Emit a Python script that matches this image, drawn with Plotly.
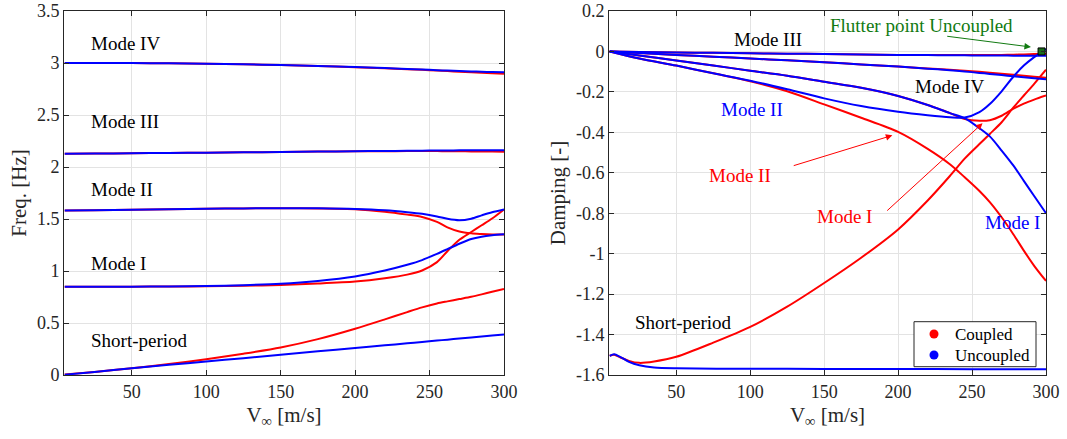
import plotly.graph_objects as go

# ---------------- data ----------------
V = [5, 25, 50, 75, 100, 125, 150, 175, 200, 220, 235, 245, 255, 262, 270, 278, 285, 292, 300]

# Frequencies [Hz]
f_blue_IV = [3.000, 3.000, 2.999, 2.997, 2.993, 2.987, 2.980, 2.971, 2.961, 2.951, 2.943, 2.937, 2.931, 2.927, 2.923, 2.919, 2.916, 2.913, 2.910]
f_red_IV = [3.000, 3.000, 2.999, 2.997, 2.993, 2.987, 2.980, 2.971, 2.960, 2.949, 2.940, 2.934, 2.927, 2.922, 2.916, 2.911, 2.906, 2.902, 2.897]
f_blue_III = [2.128, 2.130, 2.132, 2.135, 2.138, 2.141, 2.145, 2.148, 2.152, 2.154, 2.156, 2.157, 2.158, 2.159, 2.160, 2.160, 2.161, 2.161, 2.162]
f_red_III = [2.128, 2.130, 2.132, 2.135, 2.138, 2.141, 2.145, 2.148, 2.151, 2.152, 2.153, 2.153, 2.153, 2.152, 2.151, 2.150, 2.149, 2.148, 2.147]
f_blue_II = [1.582, 1.585, 1.588, 1.593, 1.598, 1.602, 1.604, 1.603, 1.597, 1.584, 1.566, 1.550, 1.525, 1.502, 1.488, 1.503, 1.535, 1.565, 1.592]
f_red_II = [1.582, 1.585, 1.588, 1.593, 1.598, 1.602, 1.603, 1.601, 1.594, 1.570, 1.542, 1.520, 1.472, 1.420, 1.380, 1.362, 1.356, 1.352, 1.350]
f_blue_I = [0.848, 0.848, 0.849, 0.851, 0.855, 0.864, 0.878, 0.905, 0.948, 1.005, 1.060, 1.105, 1.165, 1.210, 1.262, 1.308, 1.330, 1.343, 1.353]
f_red_I = [0.848, 0.848, 0.849, 0.851, 0.853, 0.858, 0.866, 0.879, 0.898, 0.930, 0.965, 1.005, 1.085, 1.190, 1.300, 1.375, 1.440, 1.505, 1.592]
f_red_SP = [0.005, 0.030, 0.065, 0.105, 0.152, 0.205, 0.265, 0.345, 0.445, 0.535, 0.605, 0.650, 0.688, 0.708, 0.730, 0.752, 0.775, 0.800, 0.828]
f_blue_SP = [0.003, 0.030, 0.066, 0.098, 0.130, 0.162, 0.195, 0.228, 0.260, 0.285, 0.305, 0.318, 0.331, 0.340, 0.350, 0.360, 0.370, 0.380, 0.390]

# Damping [-]
d_blue_III = [0, -0.003, -0.005, -0.007, -0.009, -0.011, -0.013, -0.015, -0.017, -0.018, -0.019, -0.019, -0.020, -0.020, -0.020, -0.021, -0.021, -0.021, -0.021]
d_red_III = [0, -0.003, -0.005, -0.007, -0.009, -0.011, -0.013, -0.015, -0.017, -0.018, -0.018, -0.018, -0.018, -0.018, -0.017, -0.016, -0.015, -0.013, -0.011]
d_blue_IV = [0, -0.008, -0.017, -0.026, -0.035, -0.044, -0.054, -0.064, -0.075, -0.085, -0.093, -0.099, -0.106, -0.111, -0.117, -0.123, -0.128, -0.133, -0.138]
d_red_IV = [0, -0.008, -0.017, -0.026, -0.035, -0.044, -0.054, -0.064, -0.075, -0.084, -0.091, -0.096, -0.101, -0.105, -0.110, -0.115, -0.120, -0.125, -0.130]
d_blue_I = [0, -0.020, -0.045, -0.070, -0.095, -0.120, -0.150, -0.180, -0.220, -0.265, -0.305, -0.330, -0.380, -0.420, -0.490, -0.565, -0.640, -0.715, -0.800]
d_blue_II = [0, -0.035, -0.070, -0.108, -0.145, -0.187, -0.232, -0.270, -0.298, -0.315, -0.325, -0.327, -0.300, -0.260, -0.197, -0.124, -0.070, -0.028, 0.012]
d_red_II = [0, -0.035, -0.070, -0.108, -0.147, -0.197, -0.262, -0.328, -0.398, -0.482, -0.558, -0.622, -0.690, -0.745, -0.820, -0.905, -0.985, -1.060, -1.135]
d_red_I = [0, -0.020, -0.045, -0.070, -0.095, -0.120, -0.150, -0.180, -0.220, -0.265, -0.305, -0.334, -0.343, -0.340, -0.318, -0.283, -0.258, -0.238, -0.218]

V_sp_red = [5, 8, 12, 18, 25, 35, 50, 75, 100, 125, 150, 175, 200, 220, 235, 245, 255, 262, 270, 278, 285, 292, 300]
d_red_SP = [-1.505, -1.500, -1.512, -1.530, -1.540, -1.533, -1.510, -1.440, -1.362, -1.262, -1.145, -1.020, -0.880, -0.737, -0.616, -0.530, -0.458, -0.408, -0.350, -0.277, -0.218, -0.160, -0.090]
V_sp_blue = [5, 8, 12, 18, 25, 35, 50, 100, 150, 200, 250, 300]
d_blue_SP = [-1.505, -1.498, -1.510, -1.535, -1.552, -1.563, -1.567, -1.569, -1.570, -1.570, -1.571, -1.571]

flutter_V = [297]
flutter_d = [0.0]

x_ticks = [50, 100, 150, 200, 250, 300]
f_ticks = [0, 0.5, 1, 1.5, 2, 2.5, 3, 3.5]
f_ticktext = ["0", "0.5", "1", "1.5", "2", "2.5", "3", "3.5"]
d_ticks = [-1.6, -1.4, -1.2, -1.0, -0.8, -0.6, -0.4, -0.2, 0, 0.2]
d_ticktext = ["-1.6", "-1.4", "-1.2", "-1", "-0.8", "-0.6", "-0.4", "-0.2", "0", "0.2"]

left_labels = ["Mode IV", "Mode III", "Mode II", "Mode I", "Short-period"]
left_label_x = [21.5, 21.5, 21.5, 21.5, 21.5]
left_label_y = [3.19, 2.44, 1.787, 1.076, 0.33]

right_labels = ["Mode III", "Mode IV", "Mode II", "Mode II", "Mode I", "Mode I", "Short-period", "Flutter point Uncoupled"]
right_label_x = [112, 234.5, 101.3, 92.9, 164, 277.4, 55, 216]
right_label_y = [0.057, -0.171, -0.286, -0.613, -0.814, -0.847, -1.341, 0.126]
right_label_col = ["black", "black", "#0000ff", "#ff0000", "#ff0000", "#0000ff", "black", "#117a11"]

arrow_tail_x = [232.2, 128.4, 191.6]
arrow_tail_y = [0.076, -0.567, -0.794]
arrow_head_x = [289.8, 196.1, 257.1]
arrow_head_y = [0.022, -0.415, -0.355]
arrow_col = ["#117a11", "#ff0000", "#ff0000"]

legend_names = ["Coupled", "Uncoupled"]
legend_cols = ["#ff0000", "#0000ff"]

RED = "#ff0000"
BLUE = "#0000ff"
FONT = "Liberation Serif"
LW = 2
W, H = 1067, 439

fig = go.Figure()

def line(x, y, color, xa, ya):
    fig.add_trace(go.Scatter(x=x, y=y, mode="lines", xaxis=xa, yaxis=ya,
                             line=dict(color=color, width=LW, shape="spline", smoothing=0.8),
                             showlegend=False, hoverinfo="skip"))

# left: coupled first then uncoupled on top
for yv in [f_red_IV, f_red_III, f_red_II, f_red_I, f_red_SP]:
    line(V, yv, RED, "x", "y")
for yv in [f_blue_IV, f_blue_III, f_blue_II, f_blue_I, f_blue_SP]:
    line(V, yv, BLUE, "x", "y")

# right
for yv in [d_red_III, d_red_IV, d_red_I, d_red_II]:
    line(V, yv, RED, "x2", "y2")
line(V_sp_red, d_red_SP, RED, "x2", "y2")
for yv in [d_blue_III, d_blue_IV, d_blue_I, d_blue_II]:
    line(V, yv, BLUE, "x2", "y2")
line(V_sp_blue, d_blue_SP, BLUE, "x2", "y2")

fig.add_trace(go.Scatter(x=flutter_V, y=flutter_d, mode="markers", xaxis="x2", yaxis="y2",
                         marker=dict(symbol="square", size=7, color="#1a6e1a",
                                     line=dict(color="black", width=1)),
                         showlegend=False, hoverinfo="skip"))

annotations = []
for t, x, y in zip(left_labels, left_label_x, left_label_y):
    annotations.append(dict(text=t, x=x, y=y, xref="x", yref="y", xanchor="left",
                            yanchor="middle", showarrow=False,
                            font=dict(family=FONT, size=19, color="black")))
for t, x, y, c in zip(right_labels, right_label_x, right_label_y, right_label_col):
    annotations.append(dict(text=t, x=x, y=y, xref="x2", yref="y2", xanchor="center",
                            yanchor="middle", showarrow=False,
                            font=dict(family=FONT, size=19, color=c)))
for tx, ty, hx, hy, c in zip(arrow_tail_x, arrow_tail_y, arrow_head_x, arrow_head_y, arrow_col):
    annotations.append(dict(text="", x=hx, y=hy, ax=tx, ay=ty, xref="x2", yref="y2",
                            axref="x2", ayref="y2", showarrow=True, arrowhead=2,
                            arrowsize=1.3, arrowwidth=1, arrowcolor=c, standoff=0,
                            startstandoff=0))

# legend box (drawn as shapes + text, placed in pixels of the page)
shapes = [dict(type="rect", xref="paper", yref="paper",
               x0=914 / W, x1=1036 / W, y0=1 - 366.7 / H, y1=1 - 321.7 / H,
               line=dict(color="#262626", width=1), fillcolor="white", layer="above")]
for i, (name, col) in enumerate(zip(legend_names, legend_cols)):
    cy = 334 + 21 * i
    shapes.append(dict(type="circle", xref="paper", yref="paper",
                       x0=929.5 / W, x1=938.5 / W, y0=1 - (cy + 4.5) / H, y1=1 - (cy - 4.5) / H,
                       line=dict(color=col, width=0), fillcolor=col, layer="above"))
    annotations.append(dict(text=name, x=953 / W, y=1 - cy / H, xref="paper", yref="paper",
                            xanchor="left", yanchor="middle", showarrow=False,
                            font=dict(family=FONT, size=17, color="black")))

axis_common = dict(showline=True, linecolor="#262626", linewidth=1, mirror="ticks",
                   ticks="inside", ticklen=5, tickcolor="#262626", showgrid=True,
                   gridcolor="#e3e3e3", gridwidth=1, zeroline=False, automargin=False,
                   ticklabeloverflow="allow",
                   tickfont=dict(family=FONT, size=18, color="#262626"))

xtitle = dict(text="V<sub>∞</sub> [m/s]", font=dict(family=FONT, size=21, color="#262626"), standoff=6)

ydom = [1 - 375 / H, 1 - 11 / H]

fig.update_layout(
    width=W, height=H,
    margin=dict(l=0, r=0, t=0, b=0, autoexpand=False),
    paper_bgcolor="white", plot_bgcolor="white",
    font=dict(family=FONT, color="#262626"),
    showlegend=False,
    hovermode=False,
    xaxis=dict(domain=[64 / W, 504 / W], range=[4.5, 300], tickvals=x_ticks,
               title=xtitle, anchor="y", **axis_common),
    yaxis=dict(domain=ydom, range=[0, 3.5], tickvals=f_ticks, ticktext=f_ticktext,
               title=dict(text="Freq. [Hz]", font=dict(family=FONT, size=21, color="#262626"), standoff=4),
               anchor="x", **axis_common),
    xaxis2=dict(domain=[609 / W, 1046 / W], range=[4.5, 300], tickvals=x_ticks,
                title=xtitle, anchor="y2", **axis_common),
    yaxis2=dict(domain=ydom, range=[-1.6, 0.2], tickvals=d_ticks, ticktext=d_ticktext,
                title=dict(text="Damping [-]", font=dict(family=FONT, size=21, color="#262626"), standoff=4),
                anchor="x2", **axis_common),
    annotations=annotations,
    shapes=shapes,
)

fig.write_html("out.html",
               config=dict(displayModeBar=False, staticPlot=True),
               post_script="document.body.style.margin='0px';document.body.style.padding='0px';")
